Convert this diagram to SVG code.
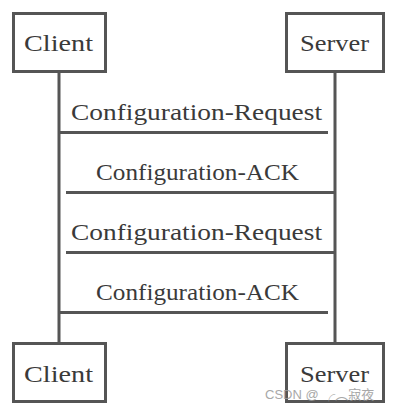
<svg xmlns="http://www.w3.org/2000/svg" width="400" height="414" viewBox="0 0 400 414">
<style>
.box{fill:#fff;stroke:#555;stroke-width:3}
.t{font-family:"Liberation Serif","DejaVu Serif",serif;font-size:23px;fill:#3a3a3a}
.ln{stroke:#555;stroke-width:3;fill:none}
.wm{font-family:"Liberation Sans","Noto Sans CJK SC",sans-serif;font-size:13px;fill:#999;opacity:0.85}
</style>
<rect width="400" height="414" fill="#fff"/>
<g id="connectors">
<line class="ln" x1="59" y1="72" x2="59" y2="343"/>
<line class="ln" x1="335" y1="72" x2="335" y2="343"/>
<line class="ln" x1="59" y1="132.5" x2="328" y2="132.5"/>
<line class="ln" x1="66" y1="192.5" x2="335" y2="192.5"/>
<line class="ln" x1="66" y1="252.5" x2="335" y2="252.5"/>
<line class="ln" x1="59" y1="312.5" x2="328" y2="312.5"/>
<text class="t" x="71" y="120" textLength="251" lengthAdjust="spacingAndGlyphs">Configuration-Request</text>
<text class="t" x="96" y="180" textLength="203" lengthAdjust="spacingAndGlyphs">Configuration-ACK</text>
<text class="t" x="71" y="240" textLength="251" lengthAdjust="spacingAndGlyphs">Configuration-Request</text>
<text class="t" x="96" y="300" textLength="203" lengthAdjust="spacingAndGlyphs">Configuration-ACK</text>
</g>
<g id="client-top">
<rect class="box" x="13.5" y="13.5" width="92" height="58"/>
<text class="t" x="24" y="51" textLength="69" lengthAdjust="spacingAndGlyphs">Client</text>
</g>
<g id="server-top">
<rect class="box" x="286.5" y="13.5" width="97" height="58"/>
<text class="t" x="300" y="51" textLength="69" lengthAdjust="spacingAndGlyphs">Server</text>
</g>
<g id="client-bottom">
<rect class="box" x="13.5" y="343.5" width="92" height="58"/>
<text class="t" x="24" y="382" textLength="69" lengthAdjust="spacingAndGlyphs">Client</text>
</g>
<g id="server-bottom">
<rect class="box" x="286.5" y="343.5" width="97" height="58"/>
<text class="t" x="300" y="382" textLength="69" lengthAdjust="spacingAndGlyphs">Server</text>
</g>
<text class="wm" x="265" y="399">CSDN @ ╭︵寂夜</text>
</svg>
